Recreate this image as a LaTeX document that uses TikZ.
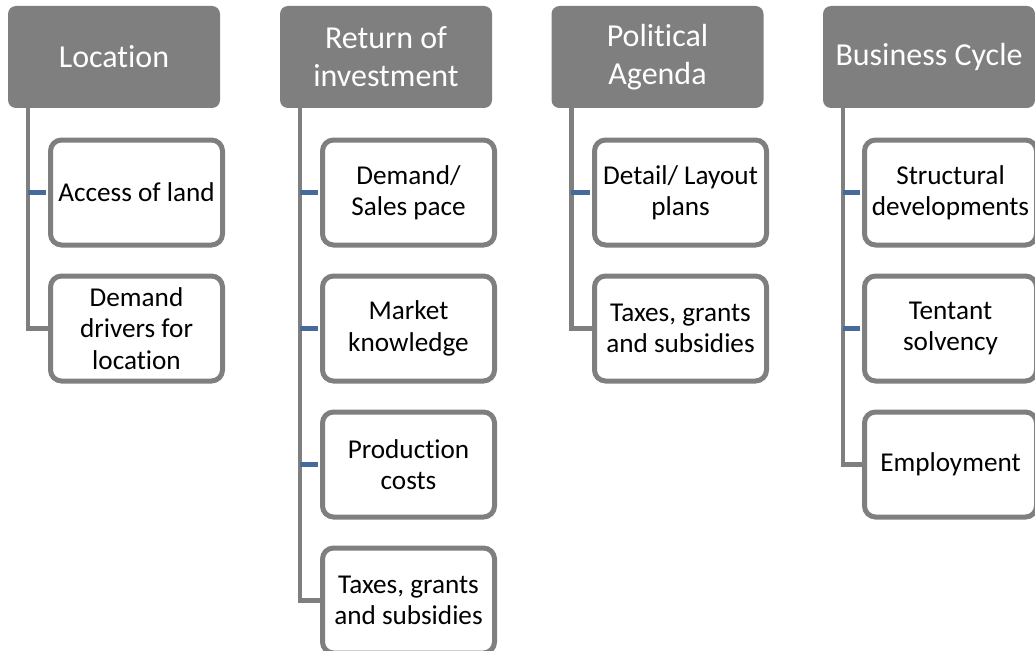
\documentclass[tikz,border=0pt]{standalone}
\usepackage{fontspec}
\setmainfont[Ligatures=NoCommon]{Carlito}
\usepackage{tikz}
\usetikzlibrary{positioning}
\definecolor{boxgray}{RGB}{127,127,127}
\definecolor{stubblue}{RGB}{70,106,155}

\begin{document}
\begin{tikzpicture}[x=1pt,y=-1pt,
    head/.style  = {fill=boxgray, rounded corners=8pt, text=white,
      minimum width=212pt, minimum height=102pt, inner sep=0pt,
      align=center, font=\fontsize{32}{38}\selectfont},
    item/.style  = {draw=boxgray, fill=white, line width=5pt, rounded corners=11pt,
      minimum width=172pt, minimum height=105pt, inner sep=0pt,
      align=center, font=\fontsize{27.2}{31.5}\selectfont},
    trunk/.style = {draw=boxgray, line width=4.5pt},
    stub/.style  = {draw=stubblue, line width=4.5pt, shorten >=2.5pt},
  ]
  \useasboundingbox (0,0) rectangle (1035,650);

  \node[head] (hLoc) at (114,57) {Location};
  \node[head] (hRoi) at (386,57) {Return of\\investment};
  \node[head] (hPol) at (657.5,57) {Political\\Agenda};
  \node[head] (hBus) at (929,57) {Business Cycle};

  \coordinate (tLoc) at ([xshift=20pt]hLoc.south west);
  \coordinate (tRoi) at ([xshift=20pt]hRoi.south west);
  \coordinate (tPol) at ([xshift=20pt]hPol.south west);
  \coordinate (tBus) at ([xshift=20pt]hBus.south west);

  \node[item] (locAccess)  at (136.5,192.5) {Access of land};
  \node[item] (locDrivers) at (136.5,328.5) {Demand\\drivers for\\location};

  \node[item] (roiDemand)  at (408.5,192.5) {Demand/\\Sales pace};
  \node[item] (roiMarket)  at (408.5,328.5) {Market\\knowledge};
  \node[item] (roiCosts)   at (408.5,464.5) {Production\\costs};
  \node[item] (roiTaxes)   at (408.5,600.5) {Taxes, grants\\and subsidies};

  \node[item] (polPlans)   at (680.5,192.5) {Detail/ Layout\\plans};
  \node[item] (polTaxes)   at (680.5,328.5) {Taxes, grants\\and subsidies};

  \node[item] (busStruct)  at (950.5,192.5) {Structural\\developments};
  \node[item] (busTenant)  at (950.5,328.5) {Tentant\\solvency};
  \node[item] (busEmploy)  at (950.5,464.5) {Employment};

  \draw[trunk] (tLoc) |- (locDrivers.west);
  \draw[trunk] (tRoi) |- (roiTaxes.west);
  \draw[trunk] (tPol) |- (polTaxes.west);
  \draw[trunk] (tBus) |- (busEmploy.west);

  \draw[stub] (tLoc |- locAccess.west) -- (locAccess.west);
  \draw[stub] (tRoi |- roiDemand.west) -- (roiDemand.west);
  \draw[stub] (tRoi |- roiMarket.west) -- (roiMarket.west);
  \draw[stub] (tRoi |- roiCosts.west) -- (roiCosts.west);
  \draw[stub] (tPol |- polPlans.west) -- (polPlans.west);
  \draw[stub] (tBus |- busStruct.west) -- (busStruct.west);
  \draw[stub] (tBus |- busTenant.west) -- (busTenant.west);
\end{tikzpicture}
\end{document}
